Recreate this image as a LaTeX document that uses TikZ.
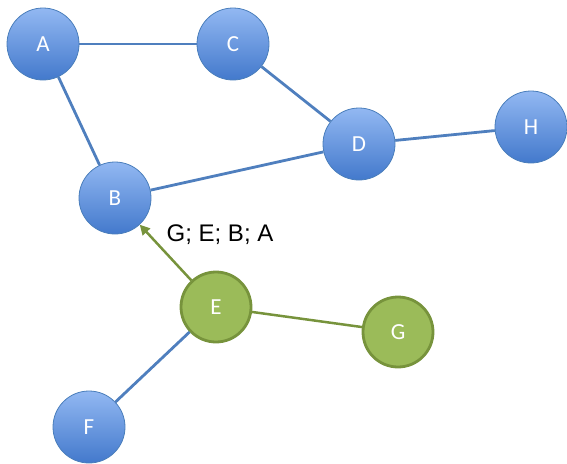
\documentclass[tikz,border=0pt]{standalone}
\usepackage{fontspec}
\setmainfont{Carlito}
\newfontfamily\labelfont{Liberation Sans}
\usetikzlibrary{arrows.meta}
\definecolor{bluetop}{HTML}{92B8F2}
\definecolor{bluebot}{HTML}{4379CC}
\definecolor{blueline}{HTML}{4F7FBE}
\definecolor{blueedge}{HTML}{4A7EBB}
\definecolor{greenfill}{HTML}{9BBB59}
\definecolor{greenline}{HTML}{77933C}
\tikzset{
  bnode/.style={circle, minimum size=72pt, inner sep=0pt, draw=blueedge, line width=0.8pt,
    top color=bluetop, bottom color=bluebot, text=white, font=\fontsize{23}{23}\selectfont},
  gnode/.style={circle, minimum size=70pt, inner sep=0pt, draw=greenline, line width=2.8pt,
    fill=greenfill, text=white, font=\fontsize{23}{23}\selectfont},
  bedge/.style={draw=blueline, line width=2.8pt},
  gedge/.style={draw=greenline, line width=2.5pt},
}
\begin{document}
\begin{tikzpicture}[x=1pt,y=-1pt]
\useasboundingbox (0,0) rectangle (567,463);
% nodes
\node[bnode] (A) at (43,44) {A};
\node[bnode] (C) at (233,44) {C};
\node[bnode] (D) at (359,144) {D};
\node[bnode] (H) at (531,127) {H};
\node[bnode] (B) at (115,198) {B};
\node[gnode] (E) at (216,307) {E};
\node[gnode] (G) at (398,332) {G};
\node[bnode] (F) at (89,427) {F};
% connectors
\draw[bedge] (A) -- (C);
\draw[bedge] (A) -- (B);
\draw[bedge] (C) -- (D);
\draw[bedge] (B) -- (D);
\draw[bedge] (D) -- (H);
\draw[bedge] (E) -- (F);
\draw[gedge] (E) -- (G);
\draw[gedge, -{Triangle[length=10pt,width=10pt]}] (E) -- (B);
% path label
\node[font=\labelfont\fontsize{24}{24}\selectfont, text=black, inner sep=0pt] (lbl) at (220,235) {G; E; B; A};
\end{tikzpicture}
\end{document}
